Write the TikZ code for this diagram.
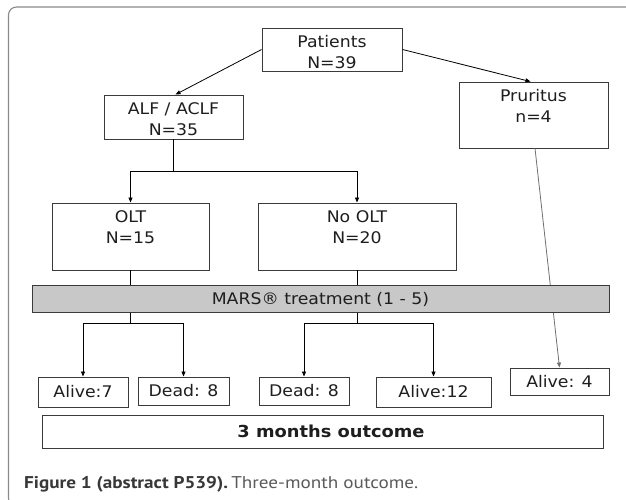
\documentclass[tikz,border=0pt]{standalone}
\usepackage{graphicx}
\usepackage{fontspec}
\setmainfont{DejaVu Sans}[FakeStretch=1.08]
\newfontfamily\capfont{PT Sans}
\usetikzlibrary{arrows.meta}
\definecolor{framecol}{HTML}{8A8A8A}
\definecolor{boxline}{HTML}{3A3A3A}
\definecolor{marsfill}{HTML}{C8C8C8}
\definecolor{txt}{HTML}{1E1E1E}
\definecolor{capbold}{HTML}{383838}
\definecolor{capreg}{HTML}{5A5A5A}
\definecolor{pline}{HTML}{707070}
\newsavebox\capbox
\begin{document}
\sbox\capbox{\capfont\fontsize{17}{20}\selectfont\textcolor{capbold}{\bfseries Figure 1 (abstract P539).}\,\textcolor{capreg}{Three-month outcome.}}
\begin{tikzpicture}[x=1pt,y=-1pt,
  box/.style={draw=boxline, line width=0.9pt, fill=white, inner sep=0pt},
  lbl/.style={inner sep=0pt, anchor=north, align=center, text=txt, font=\fontsize{16}{21}\selectfont, yshift=-8pt},
  small/.style={box, text=txt, font=\fontsize{16}{21}\selectfont},
  conn/.style={line width=0.8pt, black},
  arr/.style={conn, -{Triangle[length=5pt,width=4pt]}},
]
\useasboundingbox (0,0) rectangle (626,500);
\fill[white] (0,0) rectangle (626,500);
\begin{scope}
  \clip (0,0) rectangle (626,500);
  \draw[framecol, line width=1.1pt, rounded corners=8pt] (8.5,7) rectangle (660,506);
\end{scope}

% boxes
\node[box, minimum width=140pt, minimum height=43pt] (pat) at (332,49.5) {};
\node[lbl] (patT) at (pat.north) {Patients\\N=39};
\node[box, minimum width=139pt, minimum height=44pt] (alf) at (173.5,117) {};
\node[lbl] (alfT) at (alf.north) {ALF / ACLF\\N=35};
\node[box, minimum width=149pt, minimum height=66pt] (pru) at (533.5,115) {};
\node[lbl] (pruT) at (pru.north) {Pruritus\\n=4};
\node[box, minimum width=157pt, minimum height=67pt] (olt) at (130.5,236.5) {};
\node[lbl] (oltT) at (olt.north) {OLT\\N=15};
\node[box, minimum width=198pt, minimum height=67pt] (nolt) at (357,236.5) {};
\node[lbl] (noltT) at (nolt.north) {No OLT\\N=20};

\node[small, minimum width=90pt, minimum height=30pt] (a7) at (83,392) {Alive:7};
\node[small, minimum width=91pt, minimum height=28pt] (d8a) at (183.5,391) {Dead: 8};
\node[small, minimum width=90pt, minimum height=28pt] (d8b) at (304,391) {Dead: 8};
\node[small, minimum width=115pt, minimum height=30pt] (a12) at (433.5,392) {Alive:12};
\node[small, minimum width=99pt, minimum height=27pt] (a4) at (559.5,381.5) {Alive: 4};
\node[box, minimum width=561pt, minimum height=33pt] (out) at (322.5,431.5) {};
\node[inner sep=0pt, text=txt, font=\fontsize{16.5}{18}\selectfont\bfseries] (outT) at (331,431.5) {3 months outcome};

% connectors
\coordinate (j1) at (173.5,171);
\coordinate (j2) at (130.5,323);
\coordinate (j3) at (357,323);
\draw[arr] (pat.west) -- ([xshift=2pt]alf.north);
\draw[arr] (pat.east) -- ([xshift=-3pt]pru.north);
\draw[conn] (alf.south) -- (j1);
\draw[arr] (j1) -| (olt.north);
\draw[arr] (j1) -| (nolt.north);
\draw[conn] (olt.south) -- (j2);
\draw[conn] (nolt.south) -- (j3);
\draw[pline, line width=0.8pt, -{Triangle[length=5pt,width=4pt]}] ([xshift=1.5pt]pru.south) -- (a4.north);
\draw[arr] (j2) -| (a7.north);
\draw[arr] (j2) -| (d8a.north);
\draw[arr] (j3) -| (d8b.north);
\draw[arr] (j3) -| (a12.north);

% MARS bar on top of the through lines
\node[box, fill=marsfill, minimum width=577pt, minimum height=27pt, text=txt, font=\fontsize{16}{21}\selectfont] (mars) at (320.5,299) {MARS® treatment (1 - 5)};

% caption
\pgfmathsetmacro{\capsc}{394/\wd\capbox}
\node[anchor=base west, inner sep=0pt] (cap) at (24,488) {\scalebox{\capsc}[1]{\usebox\capbox}};
\end{tikzpicture}
\end{document}
